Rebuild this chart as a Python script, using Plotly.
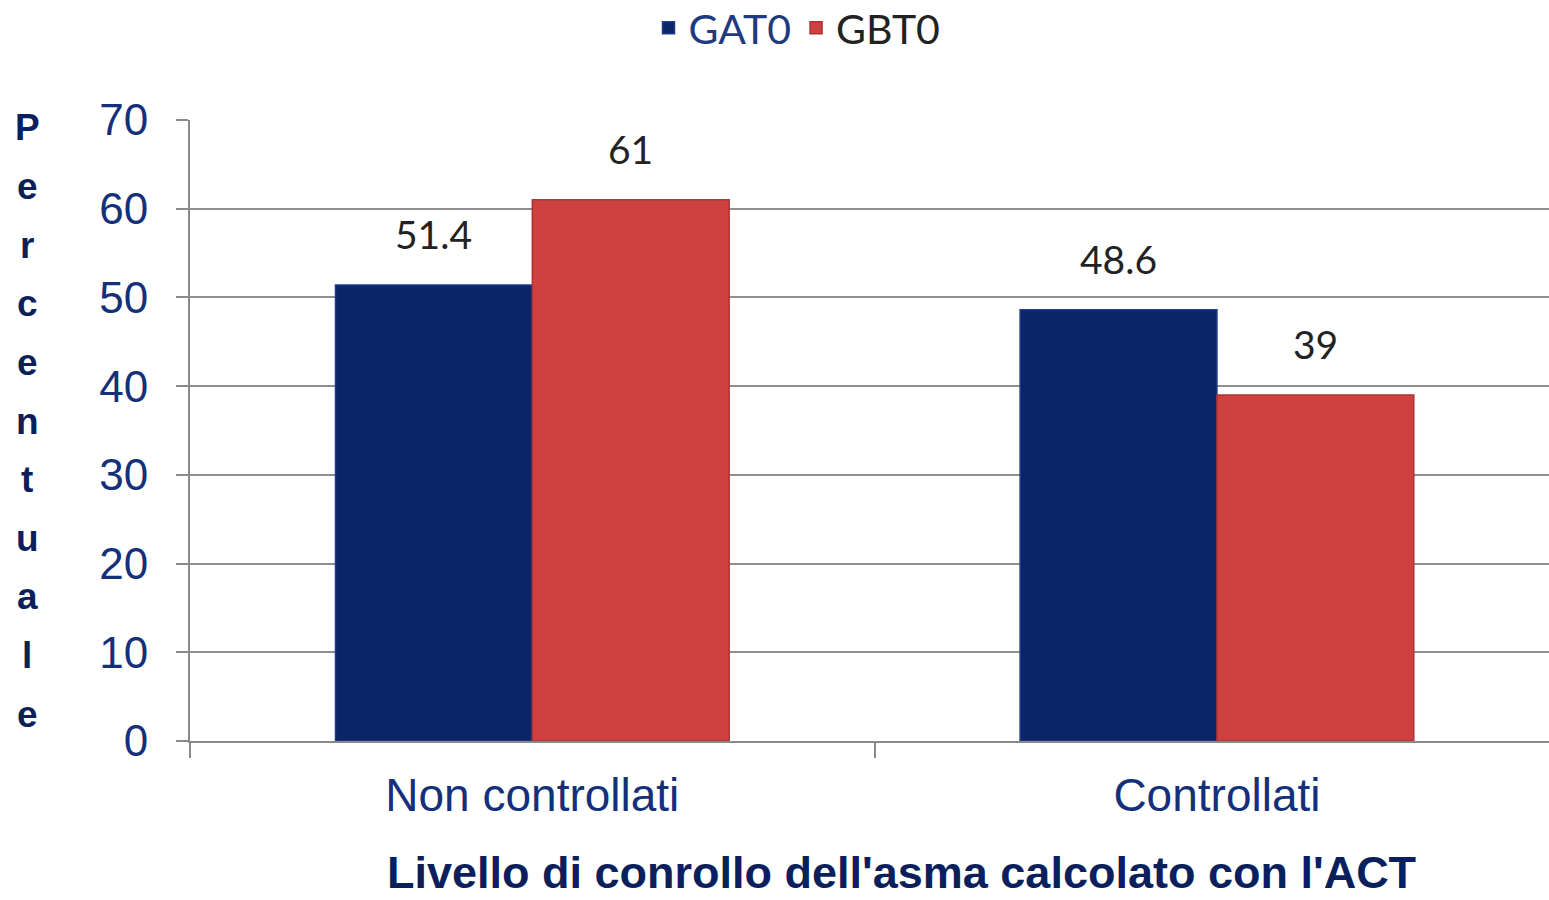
import plotly.graph_objects as go

categories = ["Non controllati", "Controllati"]
gat0 = [51.4, 48.6]
gbt0 = [61, 39]
series_names = ["GAT0", "GBT0"]
y_ticks = [0, 10, 20, 30, 40, 50, 60, 70]
y_title = "Percentuale"
x_title = "Livello di conrollo dell'asma calcolato con l'ACT"

BLUE = "#0B2566"
RED = "#CF4140"
NAVY_TXT = "#14307A"
TITLE_TXT = "#0A1F5C"

fig = go.Figure()
fig.add_trace(go.Bar(
    x=categories, y=gat0, name="<span style='color:#1F3A80'>" + series_names[0] + "</span>",
    marker=dict(color=BLUE, line=dict(color="#1E3C86", width=1.5)),
))
fig.add_trace(go.Bar(
    x=categories, y=gbt0, name="<span style='color:#222222'>" + series_names[1] + "</span>",
    marker=dict(color=RED, line=dict(color="#A93434", width=1.5)),
))

bw = (1 - 0.425) / 2
annotations = []
for i, v in enumerate(gat0):
    annotations.append(dict(x=i - bw / 2, y=v, xref="x", yref="y", text=str(v),
                            showarrow=False, yanchor="bottom", yshift=26,
                            font=dict(family="Lato", size=39, color="#222222")))
for i, v in enumerate(gbt0):
    annotations.append(dict(x=i + bw / 2, y=v, xref="x", yref="y", text=str(v),
                            showarrow=False, yanchor="bottom", yshift=26,
                            font=dict(family="Lato", size=39, color="#222222")))

# stacked vertical y-axis title letters
letter_y0 = 128
letter_step = 58.6
for k, ch in enumerate(y_title):
    ypix = letter_y0 + k * letter_step
    annotations.append(dict(x=(27 - 190) / 1359, xref="paper", xanchor="center",
                            y=(741 - ypix) / 621, yref="paper", yanchor="middle",
                            text=ch, showarrow=False,
                            font=dict(family="Liberation Sans", size=37, color=TITLE_TXT, weight="bold")))

annotations.append(dict(x=(901 - 190) / 1359, xref="paper", xanchor="center",
                        y=(741 - 872) / 621, yref="paper", yanchor="middle",
                        text="<b>" + x_title + "</b>", showarrow=False,
                        font=dict(family="Liberation Sans", size=45, color=TITLE_TXT)))

fig.update_layout(
    width=1549, height=900,
    margin=dict(l=190, r=0, t=120, b=159, autoexpand=False),
    paper_bgcolor="white", plot_bgcolor="white",
    barmode="group", bargap=0.425, bargroupgap=0,
    showlegend=True,
    legend=dict(orientation="h", x=(797 - 190) / 1359, xanchor="center",
                yref="container", y=1 - 28 / 900, yanchor="middle",
                font=dict(family="Lato", size=41, color="#222222"),
                itemwidth=30, tracegroupgap=0),
    annotations=annotations,
)
fig.update_xaxes(
    range=[-0.5, 1.485], showline=True, linecolor="#8A8A8A", linewidth=2,
    ticks="outside", tickson="boundaries", ticklen=15, tickcolor="#8A8A8A", tickwidth=2,
    tickfont=dict(family="Liberation Sans", size=46, color=NAVY_TXT),
    ticklabelstandoff=13, showgrid=False, automargin=False,
)
fig.update_yaxes(
    range=[0, 70], tickvals=y_ticks, showline=True, linecolor="#8A8A8A", linewidth=2,
    ticks="outside", ticklen=12, tickcolor="#8A8A8A", tickwidth=2,
    tickfont=dict(family="Liberation Sans", size=44, color=NAVY_TXT),
    ticklabelstandoff=19, showgrid=True, gridcolor="#8F8F8F", gridwidth=1.5,
    zeroline=False, automargin=False,
)

fig.write_html("out.html", config={"displayModeBar": False},
               post_script="document.body.style.margin='0';")
